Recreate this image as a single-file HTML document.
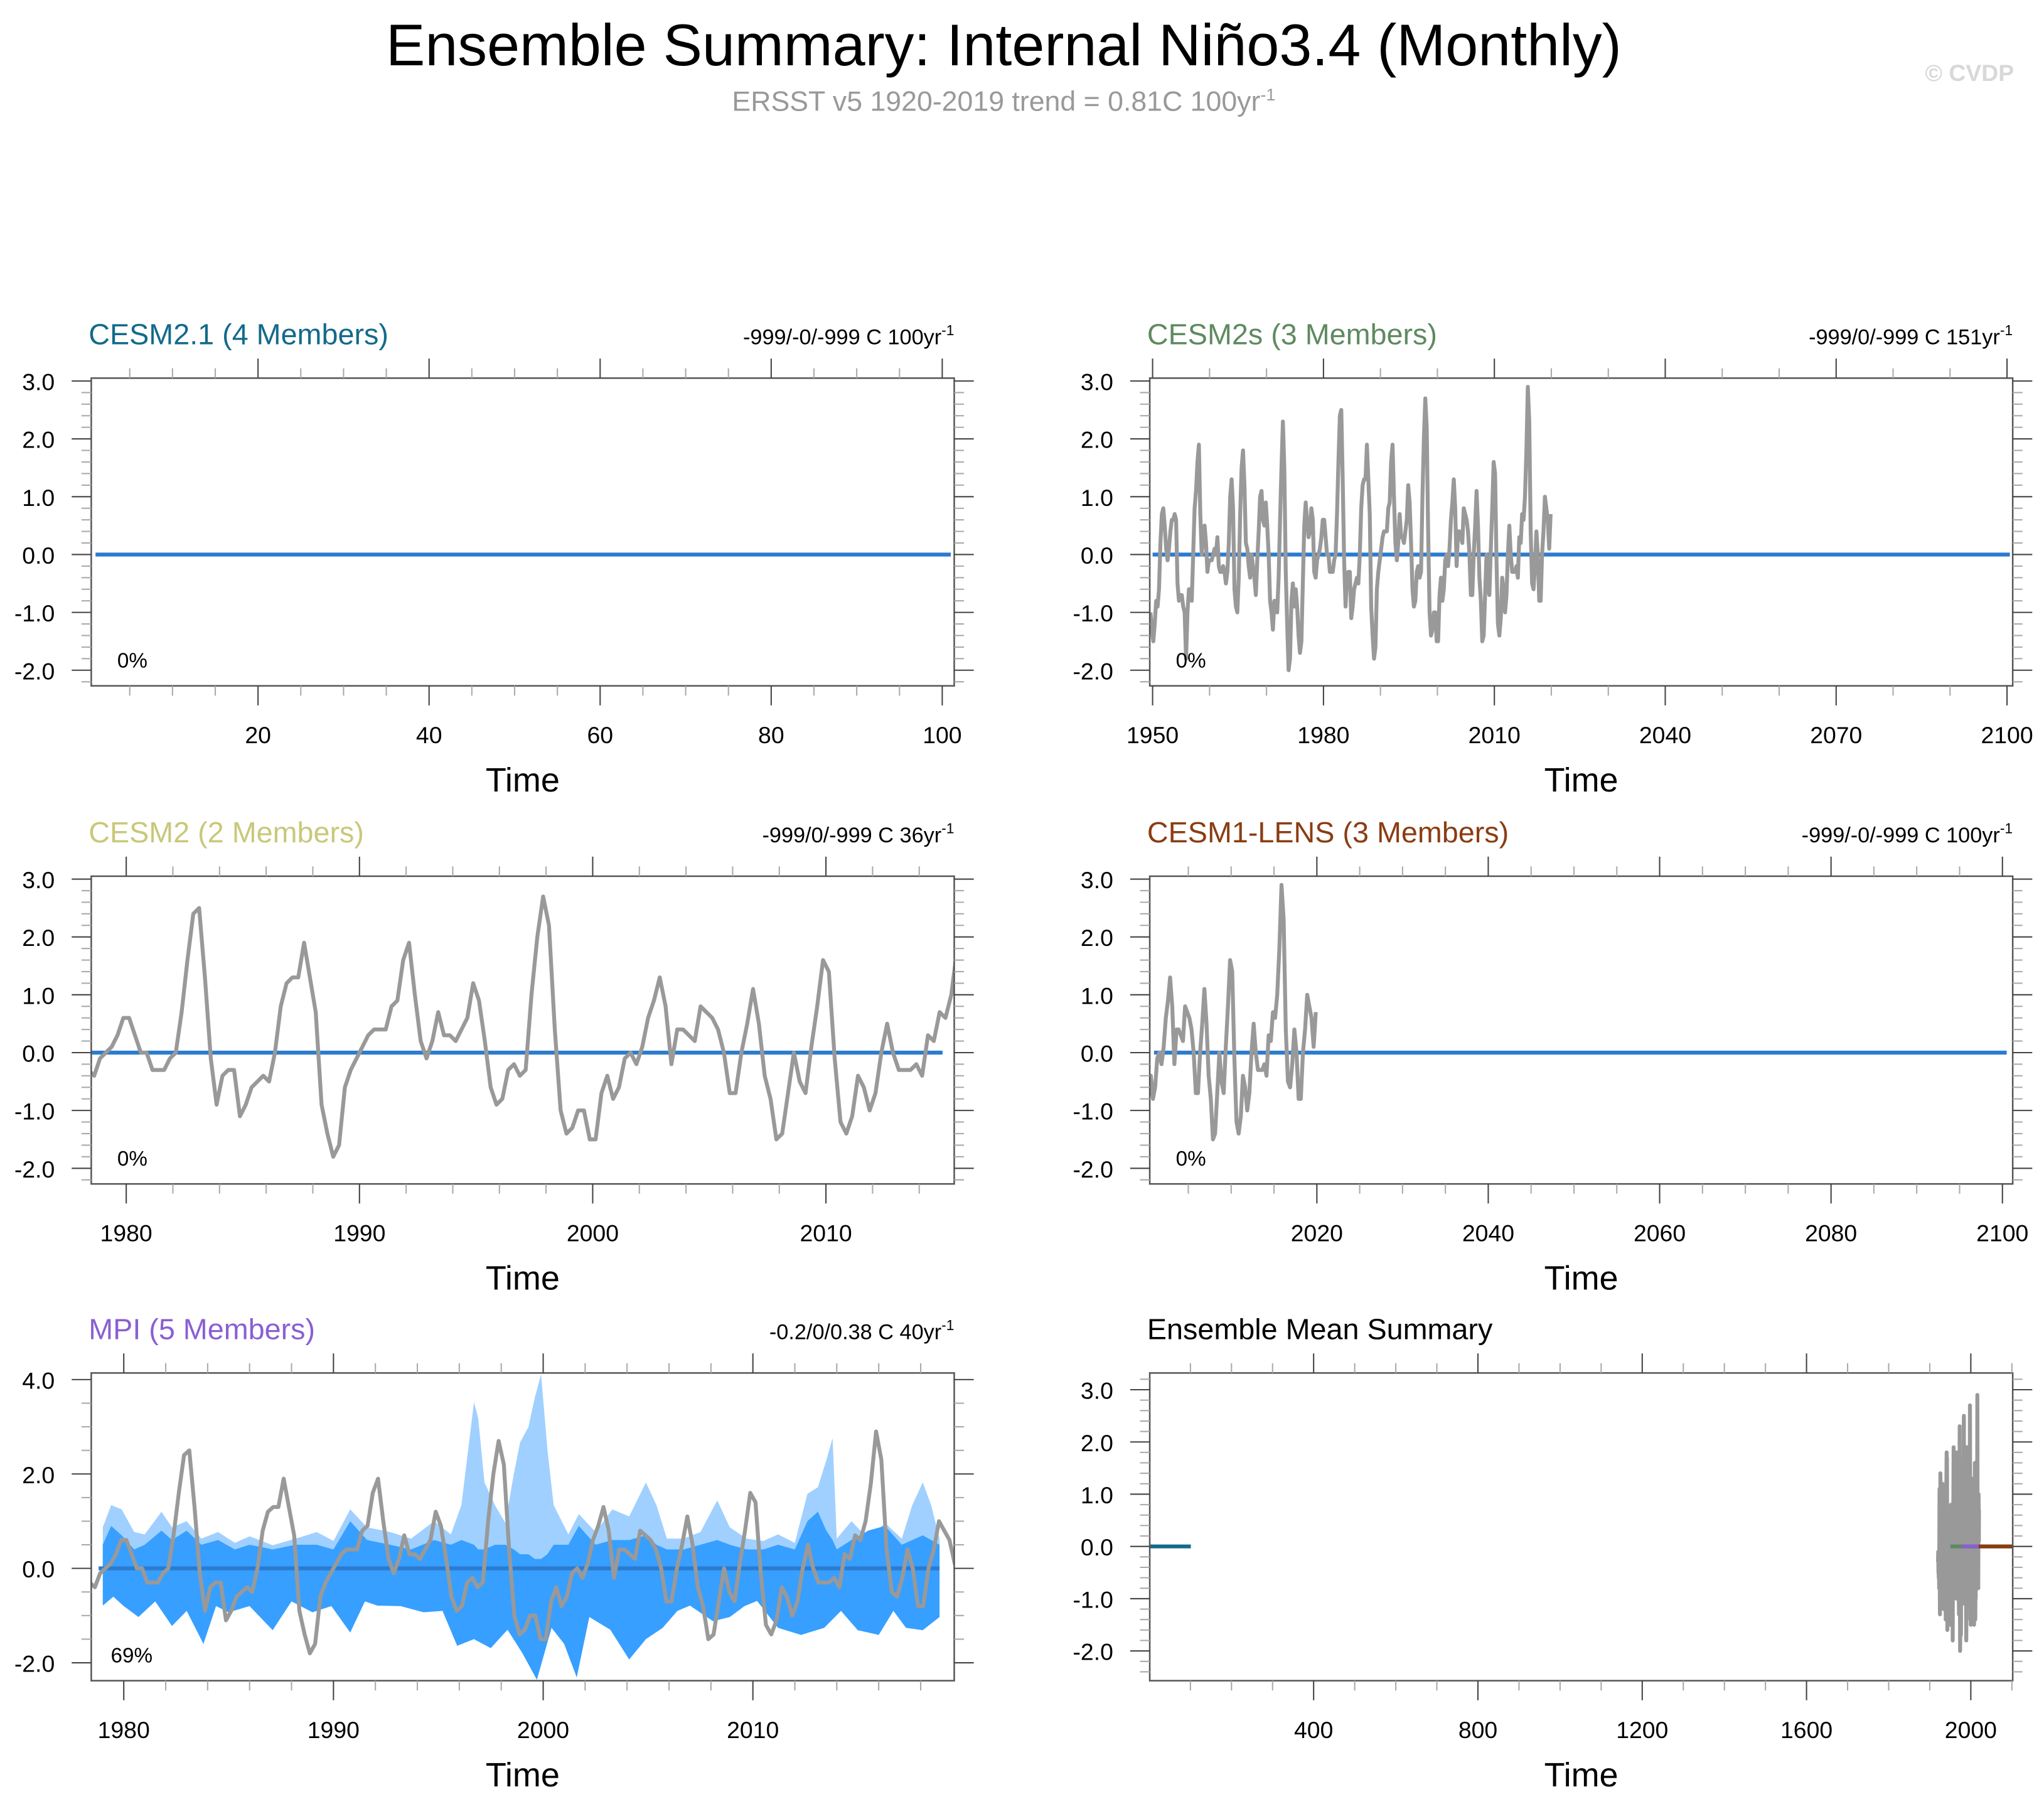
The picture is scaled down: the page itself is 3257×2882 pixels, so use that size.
<!DOCTYPE html>
<html><head><meta charset="utf-8">
<style>
html,body{margin:0;padding:0;background:#fff;}
svg{display:block;font-family:"Liberation Sans",Arial,sans-serif;}
</style></head>
<body>
<svg id="chart" xmlns="http://www.w3.org/2000/svg" width="3257" height="2882" viewBox="0 0 1568 1387.4" preserveAspectRatio="none">
<text x="770" y="50" font-size="45" text-anchor="middle" fill="#000">Ensemble Summary: Internal Niño3.4 (Monthly)</text>
<text x="770" y="85" font-size="21.5" text-anchor="middle" fill="#999">ERSST v5 1920-2019 trend = 0.81C 100yr<tspan font-size="13" dy="-8">-1</tspan></text>
<text x="1545" y="62" font-size="18" font-weight="bold" text-anchor="end" fill="#d8d8d8">© CVDP</text>
<g id="panels"></g>
</svg>
<script>
// Observed Nino3.4 anomalies, quarterly, 1920-2019
const obsStartYear = 1920;
const obsValues = [
-0.3,-0.2,-0.1,-0.3, -0.5,-0.4,-0.5,-0.6, -0.6,-0.5,-0.6,-0.8, -0.4,0.2,0.8,1.1, 0.4,-0.6,-1.1,-1.3,
-0.8,-0.1,0.8,1.4, 1.2,0.4,0.1,0.0, -0.1,0.2,0.1,-0.1, -0.2,-0.1,-0.3,-0.5, -0.3,0.0,0.3,0.2,
0.0,0.3,0.8,1.2, 1.0,0.3,-0.2,-0.4, -0.3,0.0,0.2,0.1, -0.1,-0.5,-1.0,-1.2, -0.9,-0.4,-0.3,-0.5,
-0.3,0.0,0.1,0.0, 0.0,0.1,0.2,0.3, 0.2,-0.1,-0.4,-0.6, -0.8,-0.7,-1.0,-1.4, -0.9,0.0,0.5,0.6,
0.9,1.2,1.3,1.6, 1.8,1.5,1.3,1.7, 1.2,-0.2,-1.2,-1.6, -1.4,-0.8,-0.4,-0.8, -0.3,0.0,-0.2,-0.5,
-0.4,-0.2,-0.4,-0.7, -0.5,-0.1,0.0,-0.2, -0.1,0.2,0.3,0.0, -0.2,0.0,-0.2,-0.4, -0.5,-0.8,-1.0,-1.3,
-1.5,-1.2,-0.8,-0.9, -0.6,0.2,0.7,0.8, 0.5,0.1,-0.1,0.1, 0.4,0.6,0.6,0.7, 0.6,-0.5,-0.8,-0.7,
-0.7,-0.9,-1.0,-1.8, -1.0,-0.6,-0.6,-0.8, 0.0,0.8,1.1,1.6, 1.9,0.7,0.0,0.3, 0.5,0.2,-0.3,-0.1,
-0.1,-0.1,0.0,0.1, 0.0,0.3,-0.2,-0.3, -0.3,-0.2,-0.3,-0.5, -0.3,0.2,1.0,1.3, 0.8,-0.6,-0.9,-1.0,
-0.4,0.7,1.5,1.8, 1.2,0.2,0.1,-0.2, -0.4,0.0,-0.2,-0.4, -0.7,-0.1,0.4,1.0, 1.1,0.6,0.5,0.9,
0.5,0.0,-0.8,-1.0, -1.3,-0.8,-0.8,-1.0, -0.4,0.6,1.5,2.3, 1.5,-0.3,-1.2,-2.0, -1.8,-0.8,-0.5,-0.9,
-0.6,-0.9,-1.4,-1.7, -1.5,-0.5,0.5,0.9, 0.6,0.3,0.4,0.8, 0.6,-0.3,-0.4,-0.1, 0.0,0.1,0.3,0.6,
0.6,0.3,0.0,0.0, -0.3,-0.3,-0.3,-0.1, 0.0,0.7,1.6,2.4, 2.5,1.3,-0.1,-0.9, -0.4,-0.3,-0.3,-1.1,
-0.9,-0.6,-0.5,-0.4, -0.5,0.0,0.8,1.2, 1.3,1.3,1.9,1.3, 0.7,-0.9,-1.4,-1.8, -1.6,-0.6,-0.3,-0.1,
0.1,0.3,0.4,0.4, 0.4,0.8,0.9,1.6, 1.9,1.0,0.2,-0.1, 0.2,0.7,0.3,0.3, 0.2,0.4,0.6,1.2,
0.9,0.2,-0.6,-0.9, -0.8,-0.3,-0.2,-0.4, -0.3,1.0,2.0,2.7, 2.2,0.4,-1.0,-1.4, -1.3,-1.0,-1.0,-1.5,
-1.5,-0.7,-0.4,-0.8, -0.6,-0.1,0.0,-0.2, 0.1,0.6,0.9,1.3, 0.8,-0.2,0.4,0.4, 0.3,0.2,0.8,0.7,
0.6,0.4,0.0,-0.7, -0.7,0.0,0.5,1.1, 0.5,-0.4,-0.8,-1.5, -1.4,-0.7,0.0,-0.5, -0.7,0.1,0.8,1.6,
1.4,-0.1,-1.2,-1.4, -1.1,-0.4,-0.6,-1.0, -0.7,0.0,0.5,0.0, -0.3,-0.3,-0.3,-0.2, -0.4,0.3,0.2,0.7,
0.6,1.0,1.8,2.9, 2.3,0.4,-0.5,-0.6, -0.2,0.4,0.0,-0.8, -0.8,0.0,0.4,1.0, 0.8,0.6,0.1,0.7
];
// MPI ensemble spread
const mpiUpperYears = [1979.0,1979.4,1979.9,1980.5,1981.0,1981.8,1982.3,1983.0,1983.7,1984.5,1985.3,1986.0,1987.1,1988.2,1989.2,1990.0,1990.8,1991.6,1992.7,1993.7,1994.8,1995.6,1996.1,1996.7,1996.9,1997.2,1997.7,1998.2,1998.6,1998.9,1999.3,1999.6,1999.9,2000.2,2000.5,2001.2,2001.7,2002.5,2003.3,2004.1,2004.9,2005.4,2005.9,2006.7,2007.5,2008.3,2008.9,2009.7,2010.5,2011.2,2012.0,2012.6,2013.1,2013.5,2013.8,2014.0,2014.7,2015.5,2016.3,2017.1,2017.6,2018.1,2018.5,2018.9];
const mpiMaxValues = [0.87,1.34,1.25,0.77,0.72,1.2,0.87,1.0,0.63,0.77,0.54,0.68,0.49,0.63,0.77,0.58,1.25,0.87,0.77,0.63,1.0,0.72,1.34,3.52,3.19,1.82,1.34,0.96,2.0,2.67,3.0,3.62,4.11,2.53,1.34,0.72,1.15,0.77,1.25,1.1,1.82,1.34,0.63,0.63,0.77,1.44,0.87,0.63,0.58,0.72,0.54,1.58,1.72,2.29,2.76,0.63,1.0,0.63,0.96,0.63,1.34,1.82,1.34,0.63];
const mpiInnerUpper = [0.5,0.9,0.7,0.4,0.5,0.8,0.6,0.8,0.5,0.6,0.4,0.5,0.4,0.5,0.5,0.4,1.0,0.6,0.5,0.4,0.6,0.5,0.6,0.5,0.4,0.4,0.5,0.5,0.4,0.3,0.3,0.2,0.2,0.3,0.5,0.5,0.9,0.5,0.6,0.6,0.7,0.5,0.4,0.4,0.5,0.6,0.5,0.4,0.4,0.5,0.4,1.0,1.2,0.8,0.6,0.4,0.6,0.8,0.9,0.5,0.6,0.7,0.6,0.5];
const mpiLowerYears = [1979.0,1979.5,1980.0,1980.7,1981.5,1982.3,1983.0,1983.8,1984.4,1985.0,1986.0,1987.1,1988.0,1989.0,1989.9,1990.8,1991.5,1992.1,1993.2,1994.3,1995.2,1995.9,1996.7,1997.5,1998.3,1999.0,1999.7,2000.4,2001.0,2001.6,2002.2,2003.2,2004.1,2004.9,2005.7,2006.4,2007.0,2008.1,2008.9,2009.6,2010.2,2011.2,2012.3,2013.4,2014.2,2015.0,2016.0,2016.7,2017.3,2018.1,2018.9];
const mpiMinValues = [-0.79,-0.6,-0.8,-1.03,-0.7,-1.22,-0.9,-1.6,-0.8,-0.93,-0.8,-1.31,-0.7,-0.93,-0.8,-1.36,-0.7,-0.79,-0.8,-0.93,-0.9,-1.64,-1.5,-1.69,-1.3,-1.79,-2.36,-1.26,-1.6,-2.31,-1.03,-1.3,-1.93,-1.5,-1.26,-0.9,-0.79,-1.12,-1.03,-0.8,-0.69,-1.26,-1.41,-1.26,-0.9,-1.31,-1.41,-0.9,-1.26,-1.31,-1.03];

const NS = "http://www.w3.org/2000/svg";
const root = document.getElementById('panels');
function el(tag, attrs, parent) {
  const e = document.createElementNS(NS, tag);
  for (const k in attrs) e.setAttribute(k, attrs[k]);
  (parent || root).appendChild(e);
  return e;
}
function lin(d0, d1, p0, p1) { return v => p0 + (v - d0) * (p1 - p0) / (d1 - d0); }

const L = 70, L2 = 882;
const rowsTop = [290, 672, 1053], H = 236;

function fmt(v) { const s = v.toFixed(1); return s === '-0.0' ? '0.0' : s; }

function drawPanel(cfg) {
  const g = el('g', {});
  
  
  const x0 = cfg.left, x1 = cfg.left + 662, y0 = cfg.top, y1 = cfg.top + H;
  const sx = lin(cfg.xd[0], cfg.xd[1], x0, x1);
  const sy = lin(cfg.yd[0], cfg.yd[1], y1, y0);
  const clipId = 'clip-' + cfg.name;
  const cp = el('clipPath', { id: clipId }, g);
  el('rect', { x: x0, y: y0, width: 662, height: H }, cp);
  const plot = el('g', { 'clip-path': 'url(#' + clipId + ')' }, g);
  if (cfg.draw) cfg.draw(plot, sx, sy);
  const box = el('rect', { x: x0, y: y0, width: 662, height: H, fill: 'none', stroke: '#555', 'stroke-width': 1.2 }, g);
  
  
  for (let v = cfg.ymin0; v <= cfg.yd[1] + 1e-6; v += cfg.yminor) {
    if (v < cfg.yd[0]) continue;
    const y = sy(v);
    const isMaj = Math.abs(Math.round(v / cfg.ymajor) * cfg.ymajor - v) < 1e-6;
    const len = isMaj ? 15 : 7.5;
    el('line', { x1: x0 - len, x2: x0, y1: y, y2: y, stroke: isMaj ? '#444' : '#aaa', 'stroke-width': 1 }, g);
    el('line', { x1: x1, x2: x1 + len, y1: y, y2: y, stroke: isMaj ? '#444' : '#aaa', 'stroke-width': 1 }, g);
    if (isMaj) {
      const t = el('text', { x: x0 - 28, y: y + 7, 'font-size': 18, 'text-anchor': 'end', fill: '#000' }, g);
      t.textContent = fmt(v);
      
      
    }
  }
  for (let v = cfg.xmin0; v <= cfg.xd[1] + 1e-6; v += cfg.xminor) {
    if (v < cfg.xd[0]) continue;
    const x = sx(v);
    const isMaj = Math.abs(Math.round(v / cfg.xmajor) * cfg.xmajor - v) < 1e-6;
    const len = isMaj ? 15 : 7.5;
    el('line', { x1: x, x2: x, y1: y0 - len, y2: y0, stroke: isMaj ? '#444' : '#aaa', 'stroke-width': 1 }, g);
    el('line', { x1: x, x2: x, y1: y1, y2: y1 + len, stroke: isMaj ? '#444' : '#aaa', 'stroke-width': 1 }, g);
    if (isMaj) {
      const t = el('text', { x: x, y: y1 + 44, 'font-size': 18, 'text-anchor': 'middle', fill: '#000' }, g);
      t.textContent = String(v);
      
      
    }
  }
  const xt = el('text', { x: (x0 + x1) / 2, y: y1 + 81, 'font-size': 26, 'text-anchor': 'middle', fill: '#000' }, g);
  xt.textContent = 'Time';
  
  
  const tt = el('text', { x: x0 - 2, y: y0 - 26, 'font-size': 22.5, fill: cfg.color }, g);
  tt.textContent = cfg.title;
  
  
  if (cfg.stat) {
    const st = el('text', { x: x1, y: y0 - 26, 'font-size': 16.5, 'text-anchor': 'end', fill: '#000' }, g);
    
    
    st.appendChild(document.createTextNode(cfg.stat));
    const sup = el('tspan', { 'font-size': 11, dy: -7 }, st);
    sup.textContent = '-1';
  }
  if (cfg.pct) {
    const pt = el('text', { x: x0 + 20 - (cfg.pct.length > 2 ? 5 : 0), y: y1 - 14, 'font-size': 16, fill: '#000' }, g);
    pt.textContent = cfg.pct;
    
    
  }
}

function obsPath(sx, sy, fromYear, toYear) {
  let d = '';
  obsValues.forEach((v, i) => {
    const t = obsStartYear + (i + 0.5) / 4;
    if (t < fromYear - 0.5 || t > toYear + 0.5) return;
    d += (d ? 'L' : 'M') + sx(t).toFixed(2) + ' ' + sy(v).toFixed(2);
  });
  return d;
}
function drawObs(p, sx, sy, a, b) {
  const o = el('path', { d: obsPath(sx, sy, a, b), fill: 'none', stroke: '#999', 'stroke-width': 3, 'stroke-linejoin': 'round' }, p);
  
  
}
function drawZero(p, sx, sy, a, b, color) {
  const z = el('line', { x1: sx(a), x2: sx(b), y1: sy(0), y2: sy(0), stroke: color, 'stroke-width': 3 }, p);
  
  
}

drawPanel({ name: 'panel-cesm2-1', left: L, top: rowsTop[0], xd: [0.5, 101.4], yd: [-2.27, 3.05], xmin0: 0, xminor: 5, xmajor: 20, ymin0: -2.2, yminor: 0.2, ymajor: 1,
  title: 'CESM2.1 (4 Members)', color: '#136a8a', stat: '-999/-0/-999 C 100yr', pct: '0%',
  draw: (p, sx, sy) => { drawZero(p, sx, sy, 1, 101, '#2b7bcf'); } });
drawPanel({ name: 'panel-cesm2s', left: L2, top: rowsTop[0], xd: [1949.5, 2101], yd: [-2.27, 3.05], xmin0: 1950, xminor: 10, xmajor: 30, ymin0: -2.2, yminor: 0.2, ymajor: 1,
  title: 'CESM2s (3 Members)', color: '#5e8a60', stat: '-999/0/-999 C 151yr', pct: '0%',
  draw: (p, sx, sy) => { drawZero(p, sx, sy, 1950, 2100.5, '#2b7bcf'); drawObs(p, sx, sy, 1950, 2019.9); } });
drawPanel({ name: 'panel-cesm2', left: L, top: rowsTop[1], xd: [1978.5, 2015.5], yd: [-2.27, 3.05], xmin0: 1978, xminor: 2, xmajor: 10, ymin0: -2.2, yminor: 0.2, ymajor: 1,
  title: 'CESM2 (2 Members)', color: '#c9c87a', stat: '-999/0/-999 C 36yr', pct: '0%',
  draw: (p, sx, sy) => { drawZero(p, sx, sy, 1978.5, 2015, '#2b7bcf'); drawObs(p, sx, sy, 1978.5, 2015.5); } });
drawPanel({ name: 'panel-cesm1-lens', left: L2, top: rowsTop[1], xd: [2000.5, 2101.2], yd: [-2.27, 3.05], xmin0: 2005, xminor: 5, xmajor: 20, ymin0: -2.2, yminor: 0.2, ymajor: 1,
  title: 'CESM1-LENS (3 Members)', color: '#8b3c12', stat: '-999/-0/-999 C 100yr', pct: '0%',
  draw: (p, sx, sy) => { drawZero(p, sx, sy, 2001, 2100.5, '#2b7bcf'); drawObs(p, sx, sy, 2000.5, 2019.9); } });
drawPanel({ name: 'panel-mpi', left: L, top: rowsTop[2], xd: [1978.45, 2019.6], yd: [-2.38, 4.14], xmin0: 1978, xminor: 2, xmajor: 10, ymin0: -2.0, yminor: 0.5, ymajor: 2,
  title: 'MPI (5 Members)', color: '#8a5fd2', stat: '-0.2/0/0.38 C 40yr', pct: '69%',
  draw: (p, sx, sy) => {
    let d = 'M' + sx(mpiUpperYears[0]) + ' ' + sy(0);
    mpiUpperYears.forEach((t, i) => { d += 'L' + sx(t).toFixed(2) + ' ' + sy(mpiMaxValues[i]).toFixed(2); });
    d += 'L' + sx(mpiUpperYears[mpiUpperYears.length - 1]) + ' ' + sy(0) + 'Z';
    const a = el('path', { d: d, fill: '#a0d0ff' }, p);
    
    
    let d2 = '';
    mpiUpperYears.forEach((t, i) => { d2 += (d2 ? 'L' : 'M') + sx(t).toFixed(2) + ' ' + sy(mpiInnerUpper[i]).toFixed(2); });
    for (let i = mpiLowerYears.length - 1; i >= 0; i--) d2 += 'L' + sx(mpiLowerYears[i]).toFixed(2) + ' ' + sy(mpiMinValues[i]).toFixed(2);
    d2 += 'Z';
    const b = el('path', { d: d2, fill: '#379fff' }, p);
    
    
    drawZero(p, sx, sy, 1978.8, 2018.9, '#2b7bcf');
    drawObs(p, sx, sy, 1978.3, 2019.6);
  } });
drawPanel({ name: 'panel-ensemble-mean-summary', left: L2, top: rowsTop[2], xd: [1, 2102], yd: [-2.57, 3.32], xmin0: 100, xminor: 100, xmajor: 400, ymin0: -2.4, yminor: 0.2, ymajor: 1,
  title: 'Ensemble Mean Summary', color: '#000', stat: null, pct: null,
  draw: (p, sx, sy) => {
    drawObs(p, sx, sy, 1920, 2019.9);
    drawZero(p, sx, sy, 1, 101, '#136a8a');
    drawZero(p, sx, sy, 1950, 2100, '#5e8a60');
    drawZero(p, sx, sy, 2000, 2102, '#8b3c12');
    drawZero(p, sx, sy, 1978, 2019, '#8a5fd2');
  } });
</script>
</body></html>
